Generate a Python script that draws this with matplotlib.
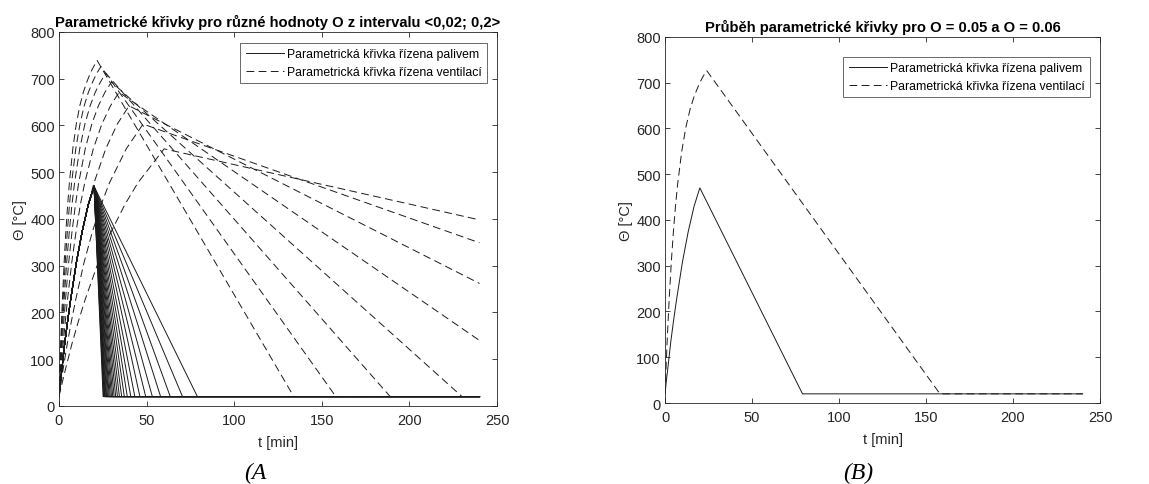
import matplotlib
matplotlib.use("Agg")
import matplotlib.pyplot as plt
from matplotlib.lines import Line2D

plt.rcParams["font.family"] = ["Liberation Sans", "DejaVu Sans"]

# --- fuel controlled curves (O = 0.06 ... 0.2, step 0.005) -------------------
fuel_heat_t = [0, 0.8, 1.7, 3.3, 5, 6.7, 10, 13.3, 16.7, 20]
fuel_heat_temp = [20, 50, 79, 134, 183, 228, 308, 374, 430, 470]
fuel_end_t = [79, 70.5, 63.5, 58, 53.3, 49.5, 46.2, 43.3, 41, 39, 37.3, 35.8,
              34.5, 33.4, 32.4, 31.5, 30.7, 30, 29.3, 28.7, 28.2, 27.7, 27.2,
              26.8, 26.4, 26.1, 25.8, 25.5, 25.2]

# --- ventilation controlled curves (O = 0.02 ... 0.055, step 0.005) ----------
vent_O = [0.02, 0.025, 0.03, 0.035, 0.04, 0.045, 0.05, 0.055]
heat_levels = [20, 50, 79, 134, 183, 228, 308, 374, 430, 477, 550, 603, 642,
               671, 693, 712, 726, 739]
vent_heat_t = [
    [0, 1.9, 3.75, 7.5, 11.25, 15, 22.5, 30, 37.5, 45, 60],
    [0, 1.2, 2.4, 4.8, 7.2, 9.6, 14.4, 19.2, 24, 28.8, 38.4, 48],
    [0, 0.83, 1.67, 3.33, 5, 6.67, 10, 13.3, 16.7, 20, 26.7, 33.3, 40],
    [0, 0.61, 1.22, 2.45, 3.67, 4.9, 7.35, 9.8, 12.2, 14.7, 19.6, 24.5, 29.4, 34.3],
    [0, 0.47, 0.94, 1.88, 2.8, 3.75, 5.6, 7.5, 9.4, 11.25, 15, 18.75, 22.5, 26.25, 30],
    [0, 0.37, 0.74, 1.48, 2.22, 2.96, 4.44, 5.93, 7.4, 8.9, 11.85, 14.8, 17.8,
     20.7, 23.7, 26.7],
    [0, 0.3, 0.6, 1.2, 1.8, 2.4, 3.6, 4.8, 6, 7.2, 9.6, 12, 14.4, 16.8, 19.2,
     21.6, 24],
    [0, 0.25, 0.5, 0.99, 1.49, 1.98, 2.98, 3.97, 4.96, 5.95, 7.9, 9.9, 11.9,
     13.9, 15.9, 17.9, 19.8, 21.8],
]
vent_end_t = [240, 240, 240, 240, 230, 189, 158, 134]
vent_end_temp = [398, 349, 262, 140, 20, 20, 20, 20]

T_END = 240
T_AMB = 20

LINE = "#1a1a1a"
LW = 0.7
DASH = (8, 4.5)
AX_COL = "#262626"
FS = 10.5


def fuel_curve(t_end):
    t = fuel_heat_t + [t_end, T_END]
    y = fuel_heat_temp + [T_AMB, T_AMB]
    return t, y


def vent_curve(i):
    th = vent_heat_t[i]
    t = list(th) + [vent_end_t[i]]
    y = heat_levels[:len(th)] + [vent_end_temp[i]]
    if vent_end_t[i] < T_END:
        t.append(T_END)
        y.append(T_AMB)
    return t, y


def style_axes(ax, title):
    ax.set_xlim(0, 250)
    ax.set_ylim(0, 800)
    ax.set_xticks(range(0, 251, 50))
    ax.set_yticks(range(0, 801, 100))
    ax.tick_params(direction="in", top=True, right=True, length=3.5,
                   width=0.6, colors=AX_COL, labelsize=FS)
    ax.tick_params(axis="x", pad=5)
    ax.tick_params(axis="y", pad=3)
    for s in ax.spines.values():
        s.set_color(AX_COL)
        s.set_linewidth(0.6)
    ax.set_xlabel("t [min]", fontsize=FS, color=AX_COL, labelpad=6)
    ax.set_ylabel("Θ [°C]", fontsize=FS, color=AX_COL, labelpad=2)
    ax.set_title(title, fontsize=10.6, fontweight="bold", pad=4)


def add_legend(ax, anchor):
    handles = [Line2D([], [], color=LINE, lw=LW),
               Line2D([], [], color=LINE, lw=LW, dashes=DASH)]
    labels = ["Parametrická křivka řízena palivem",
              "Parametrická křivka řízena ventilací"]
    leg = ax.legend(handles, labels, loc="upper right", bbox_to_anchor=anchor,
                    fontsize=8.8, frameon=True, fancybox=False,
                    borderaxespad=0, handlelength=3.1, handletextpad=0.25,
                    labelspacing=0.45, borderpad=0.45)
    leg.get_frame().set_edgecolor(AX_COL)
    leg.get_frame().set_linewidth(0.6)


fig = plt.figure(figsize=(11.49, 4.85), dpi=100)
ax1 = fig.add_axes([0.0513, 0.161, 0.3813, 0.771])
ax2 = fig.add_axes([0.5788, 0.167, 0.3786, 0.755])

# left: all values of O
for te in fuel_end_t:
    t, y = fuel_curve(te)
    ax1.plot(t, y, color=LINE, lw=LW)
for i in range(len(vent_O)):
    t, y = vent_curve(i)
    ax1.plot(t, y, color=LINE, lw=LW, dashes=DASH)
style_axes(ax1, "Parametrické křivky pro různé hodnoty O z intervalu <0,02; 0,2>")
add_legend(ax1, (0.977, 0.971))

# right: O = 0.06 (fuel) and O = 0.05 (ventilation)
t, y = fuel_curve(fuel_end_t[0])
ax2.plot(t, y, color=LINE, lw=LW)
t, y = vent_curve(vent_O.index(0.05))
ax2.plot(t, y, color=LINE, lw=LW, dashes=DASH)
style_axes(ax2, "Průběh parametrické křivky pro O = 0.05 a O = 0.06")
add_legend(ax2, (0.977, 0.945))

fig.text(0.222, 0.012, "(A", fontsize=17, style="italic",
         family=["Liberation Serif", "DejaVu Serif"], ha="center")
fig.text(0.747, 0.012, "(B)", fontsize=17, style="italic",
         family=["Liberation Serif", "DejaVu Serif"], ha="center")

fig.savefig("out.png", dpi=100)
